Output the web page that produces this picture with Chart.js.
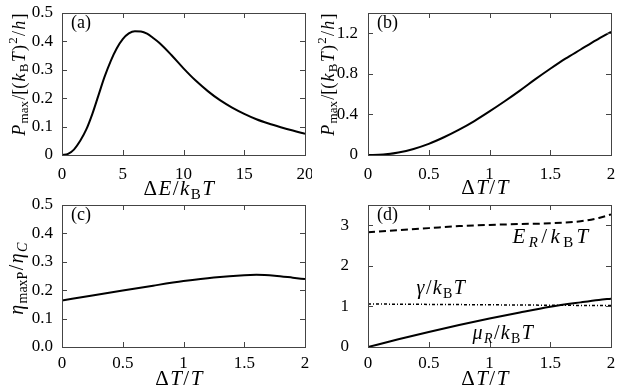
<!DOCTYPE html>
<html>
<head>
<meta charset="utf-8">
<script src="https://cdn.jsdelivr.net/npm/chart.js@4"></script>
<style>
  html, body { margin: 0; padding: 0; background: #fff; }
  #wrap { position: relative; width: 623px; height: 387px; }
  canvas { position: absolute; }
</style>
</head>
<body>
<div id="wrap">
  <canvas id="panelA" width="312" height="200" style="left:0;top:0"></canvas>
  <canvas id="panelB" width="311" height="200" style="left:312px;top:0"></canvas>
  <canvas id="panelC" width="312" height="191" style="left:0;top:196px"></canvas>
  <canvas id="panelD" width="311" height="191" style="left:312px;top:196px"></canvas>
</div>
<script>
// (a) max power vs level spacing
const deltaE = [0, 0.5, 1, 1.5, 2, 2.5, 3, 3.5, 4, 4.5, 5, 5.5, 6, 6.5, 7, 7.5, 8, 9, 10, 11, 12, 13, 14, 15, 16, 17, 18, 19, 20];
const pmaxA = [0, 0.004, 0.02, 0.05, 0.09, 0.145, 0.21, 0.275, 0.33, 0.375, 0.408, 0.428, 0.436, 0.435, 0.427, 0.412, 0.395, 0.352, 0.305, 0.262, 0.225, 0.193, 0.167, 0.145, 0.126, 0.111, 0.098, 0.086, 0.075];

// (b) max power vs temperature bias
const dTb = [0, 0.125, 0.25, 0.375, 0.5, 0.625, 0.75, 0.875, 1, 1.125, 1.25, 1.375, 1.5, 1.625, 1.75, 1.875, 2];
const pmaxB = [0, 0.004, 0.025, 0.06, 0.11, 0.175, 0.25, 0.335, 0.43, 0.53, 0.635, 0.745, 0.85, 0.95, 1.04, 1.13, 1.215];

// (c) efficiency at max power
const dTc = [0, 0.25, 0.5, 0.75, 1, 1.25, 1.5, 1.6, 1.75, 1.9, 2];
const etaRatio = [0.164, 0.181, 0.199, 0.216, 0.232, 0.245, 0.253, 0.254, 0.251, 0.244, 0.239];

// (d) optimal parameters
const dTd = [0, 0.25, 0.5, 0.75, 1, 1.25, 1.5, 1.75, 1.9, 2];
const energyR = [2.83, 2.88, 2.93, 2.98, 3.01, 3.03, 3.05, 3.1, 3.18, 3.27];
const gammaR = [1.06, 1.055, 1.05, 1.045, 1.04, 1.035, 1.03, 1.025, 1.022, 1.02];
const muR = [0, 0.19, 0.37, 0.54, 0.7, 0.85, 0.99, 1.1, 1.16, 1.19];

// ticks
const xTicksA = [0, 5, 10, 15, 20];
const xLabelsA = ['0', '5', '10', '15', '20'];
const xTicksT = [0, 0.5, 1, 1.5, 2];
const xLabelsT = ['0', '0.5', '1', '1.5', '2'];
const yTicksA = [0, 0.1, 0.2, 0.3, 0.4, 0.5];
const yLabelsA = ['0', '0.1', '0.2', '0.3', '0.4', '0.5'];
const yTicksB = [0, 0.4, 0.8, 1.2];
const yLabelsB = ['0', '0.4', '0.8', '1.2'];
const yTicksC = [0, 0.1, 0.2, 0.3, 0.4, 0.5];
const yLabelsC = ['0.0', '0.1', '0.2', '0.3', '0.4', '0.5'];
const yTicksD = [0, 1, 2, 3];
const yLabelsD = ['0', '1', '2', '3'];

const SERIF = "'Liberation Serif', serif";

// draw a small math-like string: segments [text, style]
// style: 'r' roman, 'i' italic, 'sub'/'subi' subscript, 'sup' superscript
function drawMath(ctx, segs, cx, cy, size, angle, align, spread) {
  ctx.save();
  ctx.translate(cx, cy);
  if (angle) ctx.rotate(angle);
  const gap = size * (spread || 0.07);
  const parts = segs.map(([t, st]) => {
    const small = st.startsWith('sub') || st.startsWith('sup');
    const it = st === 'i' || st === 'subi';
    const fs = Math.round(small ? size * 0.7 : size);
    const font = (it ? 'italic ' : '') + fs + 'px ' + SERIF;
    ctx.font = font;
    const dy = st.startsWith('sub') ? size * 0.28 : st.startsWith('sup') ? -size * 0.36 : 0;
    return { t, font, dy, w: ctx.measureText(t).width + gap };
  });
  const total = parts.reduce((s, p) => s + p.w, 0);
  let x = align === 'left' ? 0 : -total / 2;
  ctx.textBaseline = 'middle';
  ctx.fillStyle = '#000';
  parts.forEach(p => {
    ctx.font = p.font;
    ctx.fillText(p.t, x, p.dy);
    x += p.w;
  });
  ctx.restore();
}

const framePlugin = {
  id: 'frame',
  afterDraw(chart) {
    const { ctx, chartArea: a, scales: { x, y } } = chart;
    const cfg = chart.options.plugins.panel;
    ctx.save();
    ctx.strokeStyle = '#444';
    ctx.lineWidth = 1;
    ctx.beginPath();
    x.ticks.forEach(t => {
      const px = Math.round(x.getPixelForValue(t.value)) + 0.5;
      ctx.moveTo(px, a.bottom); ctx.lineTo(px, a.bottom - 5);
      ctx.moveTo(px, a.top); ctx.lineTo(px, a.top + 5);
    });
    y.ticks.forEach(t => {
      const py = Math.round(y.getPixelForValue(t.value)) + 0.5;
      ctx.moveTo(a.left, py); ctx.lineTo(a.left + 5, py);
      ctx.moveTo(a.right, py); ctx.lineTo(a.right - 5, py);
    });
    ctx.stroke();
    ctx.strokeRect(Math.round(a.left) + 0.5, Math.round(a.top) + 0.5, Math.round(a.right - a.left), Math.round(a.bottom - a.top));
    // panel letter
    ctx.fillStyle = '#000';
    ctx.font = '18px ' + SERIF;
    ctx.textBaseline = 'middle';
    ctx.fillText(cfg.letter, a.left + 9, a.top + 10);
    ctx.restore();
    const cxm = (a.left + a.right) / 2;
    drawMath(ctx, cfg.xTitle, cxm - 4, a.bottom + cfg.xTitleOff, 21, 0);
    if (cfg.yTitle) {
      drawMath(ctx, cfg.yTitle, cfg.yTitleX, (a.top + a.bottom) / 2 + cfg.yTitleDy, cfg.yTitleSize, -Math.PI / 2);
    }
    (cfg.notes || []).forEach(n => {
      drawMath(ctx, n.segs, x.getPixelForValue(n.x), y.getPixelForValue(n.y), n.size, 0, 'left', n.spread);
    });
  }
};

function makePanel(id, cfg) {
  const tickFont = { family: SERIF, size: 17 };
  return new Chart(document.getElementById(id), {
    type: 'line',
    data: {
      datasets: cfg.series.map(s => ({
        data: s.xs.map((v, i) => ({ x: v, y: s.ys[i] })),
        borderColor: '#000',
        borderWidth: s.width || 2,
        borderDash: s.dash || [],
        pointRadius: 0,
        cubicInterpolationMode: 'monotone',
        fill: false
      }))
    },
    options: {
      responsive: false,
      animation: false,
      events: [],
      layout: { padding: { top: cfg.padTop, right: cfg.padRight, left: 0, bottom: 0 } },
      plugins: { legend: { display: false }, tooltip: { enabled: false }, panel: cfg },
      scales: {
        x: {
          type: 'linear', min: cfg.xMin, max: cfg.xMax,
          grid: { display: false, drawTicks: false }, border: { display: false },
          afterBuildTicks: s => { s.ticks = cfg.xTicks.map(v => ({ value: v })); },
          afterFit: s => { s.height = cfg.xAxisH; s.paddingLeft = 0; s.paddingRight = 0; },
          ticks: { padding: cfg.xPad, font: tickFont, color: '#000', maxRotation: 0, autoSkip: false,
                   callback: (v, i) => cfg.xLabels[i] }
        },
        y: {
          type: 'linear', min: cfg.yMin, max: cfg.yMax,
          grid: { display: false, drawTicks: false }, border: { display: false },
          afterBuildTicks: s => { s.ticks = cfg.yTicks.map(v => ({ value: v })); },
          afterFit: s => { s.width = cfg.yAxisW; s.paddingTop = 0; s.paddingBottom = 0; },
          ticks: { padding: cfg.yPad, font: tickFont, color: '#000', autoSkip: false,
                   callback: (v, i) => cfg.yLabels[i] }
        }
      }
    },
    plugins: [framePlugin]
  });
}

const titleE = [['Δ', 'r'], ['E', 'i'], ['/', 'r'], ['k', 'i'], ['B', 'sub'], ['T', 'i']];
const titleT = [['Δ', 'r'], ['T', 'i'], ['/', 'r'], ['T', 'i']];
const titleP = [['P', 'i'], ['max', 'sub'], ['/[(', 'r'], ['k', 'i'], ['B', 'sub'], ['T', 'i'], [')', 'r'], ['2', 'sup'], ['/', 'r'], ['h', 'i'], [']', 'r']];
const titleEta = [['η', 'i'], ['maxP', 'sub'], ['/', 'r'], ['η', 'i'], ['C', 'subi']];

makePanel('panelA', {
  letter: '(a)', padTop: 13, padRight: 7, yAxisW: 62, xAxisH: 45, xPad: 9, yPad: 9,
  xMin: 0, xMax: 20, yMin: 0, yMax: 0.5,
  xTicks: xTicksA, xLabels: xLabelsA, yTicks: yTicksA, yLabels: yLabelsA,
  xTitle: titleE, xTitleOff: 34, yTitle: titleP, yTitleX: 20, yTitleDy: -10, yTitleSize: 18,
  series: [{ xs: deltaE, ys: pmaxA }]
});

makePanel('panelB', {
  letter: '(b)', padTop: 13, padRight: 12, yAxisW: 56, xAxisH: 45, xPad: 9, yPad: 10,
  xMin: 0, xMax: 2, yMin: 0, yMax: 1.4,
  xTicks: xTicksT, xLabels: xLabelsT, yTicks: yTicksB, yLabels: yLabelsB,
  xTitle: titleT, xTitleOff: 33, yTitle: titleP, yTitleX: 17, yTitleDy: -10, yTitleSize: 18,
  series: [{ xs: dTb, ys: pmaxB }]
});

makePanel('panelC', {
  letter: '(c)', padTop: 9, padRight: 7, yAxisW: 62, xAxisH: 40, xPad: 6, yPad: 9,
  xMin: 0, xMax: 2, yMin: 0, yMax: 0.5,
  xTicks: xTicksT, xLabels: xLabelsT, yTicks: yTicksC, yLabels: yLabelsC,
  xTitle: titleT, xTitleOff: 32, yTitle: titleEta, yTitleX: 18, yTitleDy: 2, yTitleSize: 20,
  series: [{ xs: dTc, ys: etaRatio }]
});

makePanel('panelD', {
  letter: '(d)', padTop: 9, padRight: 12, yAxisW: 56, xAxisH: 40, xPad: 6, yPad: 19,
  xMin: 0, xMax: 2, yMin: 0, yMax: 3.5,
  xTicks: xTicksT, xLabels: xLabelsT, yTicks: yTicksD, yLabels: yLabelsD,
  xTitle: titleT, xTitleOff: 32, yTitle: null,
  notes: [
    { segs: [['E', 'i'], ['R', 'subi'], ['/', 'r'], ['k', 'i'], ['B', 'sub'], ['T', 'i']], x: 1.19, y: 2.7, size: 21, spread: 0.16 },
    { segs: [['γ', 'i'], ['/', 'r'], ['k', 'i'], ['B', 'sub'], ['T', 'i']], x: 0.4, y: 1.43, size: 20 },
    { segs: [['μ', 'i'], ['R', 'subi'], ['/', 'r'], ['k', 'i'], ['B', 'sub'], ['T', 'i']], x: 0.86, y: 0.32, size: 20 }
  ],
  series: [
    { xs: dTd, ys: energyR, dash: [7, 4] },
    { xs: dTd, ys: gammaR, dash: [3, 2, 1, 2], width: 1.5 },
    { xs: dTd, ys: muR }
  ]
});
</script>
</body>
</html>
